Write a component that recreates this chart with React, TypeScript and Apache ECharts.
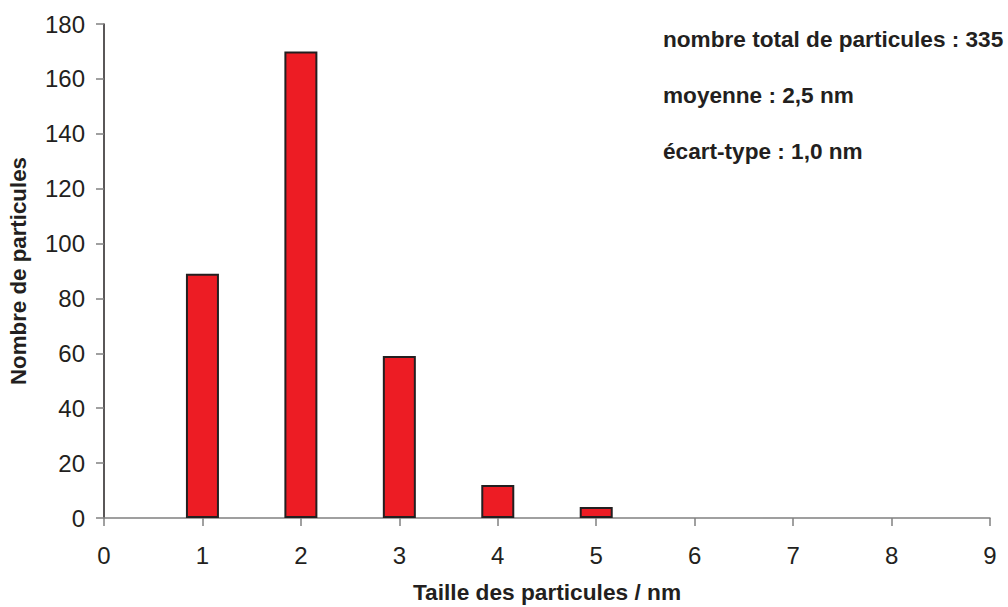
import React, { useEffect, useRef } from "react";
import * as echarts from "echarts";

const sizes = [1, 2, 3, 4, 5];
const counts = [89, 170, 59, 12, 4];
const annotations = [
  "nombre total de particules : 335",
  "moyenne : 2,5 nm",
  "écart-type : 1,0 nm",
];
const xTitle = "Taille des particules / nm";
const yTitle = "Nombre de particules";

export default function App() {
  const ref = useRef<HTMLDivElement>(null);
  useEffect(() => {
    if (!ref.current) return;
    const chart = echarts.init(ref.current, undefined, { renderer: "svg" });
    const font = "'Liberation Sans', Arial, sans-serif";
    chart.setOption({
      animation: false,
      backgroundColor: "#ffffff",
      textStyle: { fontFamily: font },
      grid: {
        left: 104,
        right: 18,
        top: 24,
        bottom: 89,
        containLabel: false,
        outerBoundsMode: "none",
      },
      xAxis: {
        type: "value",
        min: 0,
        max: 9,
        interval: 1,
        name: xTitle,
        nameLocation: "middle",
        nameGap: 62,
        nameTextStyle: { fontFamily: font, fontSize: 22.7, fontWeight: "bold", color: "#231f20" },
        axisLine: { show: true, lineStyle: { color: "#808080", width: 1.5 } },
        axisTick: { show: true, inside: false, length: 8, lineStyle: { color: "#808080", width: 1.5 } },
        axisLabel: { fontFamily: font, fontSize: 24, color: "#231f20", margin: 25 },
        splitLine: { show: false },
      },
      yAxis: {
        type: "value",
        min: 0,
        max: 180,
        interval: 20,
        name: yTitle,
        nameLocation: "middle",
        nameGap: 75,
        nameTextStyle: { fontFamily: font, fontSize: 22.3, fontWeight: "bold", color: "#231f20" },
        axisLine: { show: true, lineStyle: { color: "#231f20", width: 1.5 } },
        axisTick: { show: true, inside: false, length: 8, lineStyle: { color: "#808080", width: 1.5 } },
        axisLabel: { fontFamily: font, fontSize: 24, color: "#231f20", margin: 19 },
        splitLine: { show: false },
      },
      series: [
        {
          type: "bar",
          data: sizes.map((s, i) => [s, counts[i]]),
          barWidth: 33,
          itemStyle: { color: "#ed1c24", borderColor: "#231f20", borderWidth: 2 },
        },
      ],
      graphic: annotations.map((t, i) => ({
        type: "text",
        left: 663,
        top: 28 + i * 56,
        style: {
          text: t,
          fontFamily: font,
          fontSize: 22.6,
          fontWeight: "bold",
          fill: "#231f20",
        },
      })),
    });
    return () => chart.dispose();
  }, []);
  return (
    <div
      ref={ref}
      style={{ position: "fixed", left: 0, top: 0, width: 1008, height: 607, background: "#fff" }}
    />
  );
}
